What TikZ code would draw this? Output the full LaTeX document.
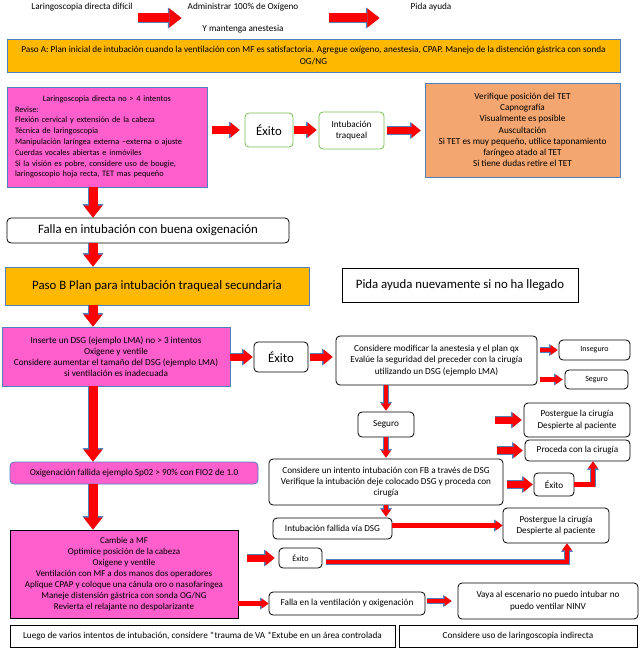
\documentclass[tikz,border=0pt]{standalone}
\usepackage{fontspec}
\setmainfont{Carlito}
\usetikzlibrary{arrows.meta}

\definecolor{rojo}{RGB}{255,0,0}
\definecolor{borde}{RGB}{79,129,189}
\definecolor{rosa}{RGB}{255,95,205}
\definecolor{naranja}{RGB}{255,184,0}
\definecolor{salmon}{RGB}{244,166,112}
\definecolor{verde}{RGB}{120,190,80}

\newcommand{\diminuto}{\fontsize{8}{9}\selectfont}
\newcommand{\menor}{\fontsize{8.3}{10.8}\selectfont}
\newcommand{\chico}{\fontsize{9.2}{11.2}\selectfont}
\newcommand{\grande}{\fontsize{12.8}{14}\selectfont}

\tikzset{
  caja/.style={draw, line width=0.8pt, inner sep=2pt, align=center, font=\chico},
  cajarosa/.style={caja, fill=rosa, draw=borde},
  cajanaranja/.style={caja, fill=naranja, draw=borde},
  cajasalmon/.style={caja, fill=salmon, draw=borde},
  cajaverde/.style={caja, rounded corners=4pt, draw=verde, fill=white},
  redonda/.style={caja, rounded corners=4pt, draw=black, fill=white},
  recta/.style={caja, draw=black, fill=white},
  etiqueta/.style={font=\chico, inner sep=0pt},
  flechota/.style={draw=rojo, line width=9pt, -{Triangle[width=19pt,length=12pt,line width=0pt]},
    preaction={draw=borde, line width=10.2pt, -{Triangle[width=21pt,length=13.5pt,line width=0pt]}}},
  flecha/.style={draw=rojo, line width=7pt, -{Triangle[width=15pt,length=9pt,line width=0pt]},
    preaction={draw=borde, line width=8.2pt, -{Triangle[width=17pt,length=10.5pt,line width=0pt]}}},
  flechita/.style={draw=rojo, line width=4.5pt, -{Triangle[width=10pt,length=7pt,line width=0pt]},
    preaction={draw=borde, line width=5.5pt, -{Triangle[width=12pt,length=8.5pt,line width=0pt]}}}
}

\begin{document}
\begin{tikzpicture}[x=1pt,y=-1pt]
\useasboundingbox (0,0) rectangle (642,650);

% encabezado
\node[etiqueta] (dificil) at (82,7) {Laringoscopia directa difícil};
\node[etiqueta, align=center] (oxigeno) at (243,18) {Administrar 100\% de Oxígeno\\[10.5pt]Y mantenga anestesia};
\node[etiqueta] (ayuda) at (431,7) {Pida ayuda};

\node[cajanaranja, minimum width=613pt, minimum height=33pt] (pasoA) at (313.5,55.5)
  {Paso A: Plan inicial de intubación  cuando la ventilación con MF es satisfactoria. Agregue oxígeno, anestesia, CPAP. Manejo de la distención gástrica con sonda\\OG/NG};

% paso A
\node[cajarosa, font=\menor, minimum width=200pt, minimum height=100pt, text width=184pt, align=left] (revise) at (107,137)
  {\makebox[\linewidth]{Laringoscopia directa no > 4  intentos}\\Revise:\\Flexión cervical y extensión de la cabeza\\Técnica de laringoscopia\\Manipulación laríngea externa –externa o ajuste\\Cuerdas vocales abiertas e inmóviles\\Si la visión es pobre, considere uso de bougie,\\laringoscopio hoja recta, TET mas pequeño};
\node[cajaverde, font=\grande, minimum width=48pt, minimum height=34pt] (exito1) at (269,130) {Éxito};
\node[cajaverde, minimum width=65pt, minimum height=37pt] (traqueal) at (351.5,130.5) {Intubación\\traqueal};
\node[cajasalmon, minimum width=195pt, minimum height=94pt] (verifique) at (522.5,130)
  {Verifique posición del TET\\Capnografía\\Visualmente es posible\\Auscultación\\Si TET es muy pequeño, utilice  taponamiento\\faríngeo atado al TET\\Si tiene dudas retire el TET};

\node[redonda, font=\grande, minimum width=282pt, minimum height=25pt] (falla) at (148,230.5) {Falla en intubación con buena oxigenación};

% paso B
\node[cajanaranja, font=\grande, minimum width=304pt, minimum height=38pt] (pasoB) at (157,286) {Paso B Plan para intubación traqueal secundaria};
\node[recta, font=\grande, minimum width=236pt, minimum height=34pt] (nuevamente) at (460,285) {Pida ayuda nuevamente si no ha llegado};

\node[cajarosa, minimum width=228pt, minimum height=59pt] (dsg) at (116,356.5)
  {Inserte un DSG (ejemplo LMA) no > 3 intentos\\Oxigene y ventile\\Considere aumentar el tamaño del DSG (ejemplo LMA)\\si ventilación es inadecuada};
\node[redonda, font=\grande, minimum width=54pt, minimum height=30pt] (exito2) at (281,357) {Éxito};
\node[redonda, minimum width=201pt, minimum height=49pt] (modificar) at (436.5,360.5)
  {Considere modificar la anestesia y el plan qx\\Evalúe la seguridad del preceder con la cirugía\\utilizando un DSG (ejemplo LMA)};
\node[redonda, font=\diminuto, minimum width=71pt, minimum height=20pt] (inseguro) at (594.5,350) {Inseguro};
\node[redonda, font=\diminuto, minimum width=63pt, minimum height=19pt] (seguroB) at (596.5,379.5) {Seguro};
\node[redonda, minimum width=56pt, minimum height=25pt] (seguro) at (386,424.5) {Seguro};
\node[redonda, minimum width=106pt, minimum height=34pt] (postergue1) at (577,420) {Postergue la cirugía\\Despierte al paciente};
\node[redonda, minimum width=105pt, minimum height=21pt] (proceda) at (577.5,450.5) {Proceda con la cirugía};
\node[redonda, minimum width=234pt, minimum height=46pt] (fibro) at (386,482)
  {Considere un intento intubación con FB a través de  DSG\\Verifique la intubación deje colocado DSG y proceda con\\cirugía};
\node[redonda, minimum width=40pt, minimum height=23pt] (exito3) at (554,484.5) {Éxito};
\node[cajarosa, rounded corners=4pt, minimum width=248pt, minimum height=22pt] (fallida) at (134,473)
  {Oxigenación fallida ejemplo Sp02 > 90\% con FIO2 de 1.0};

% mascarilla facial
\node[cajarosa, draw=black, font=\fontsize{9}{11}\selectfont, minimum width=228pt, minimum height=88pt] (mascarilla) at (124,574)
  {Cambie  a MF\\Optimice posición de la cabeza\\Oxigene y ventile\\Ventilación con MF a dos manos dos operadores\\Aplique CPAP y coloque una cánula oro o nasofaríngea\\Maneje distensión  gástrica con sonda OG/NG\\Revierta el relajante no despolarizante};
\node[redonda, font=\diminuto, minimum width=43pt, minimum height=20pt] (exito4) at (300.5,558) {Éxito};
\node[redonda, minimum width=119pt, minimum height=21pt] (intfallida) at (332.5,528.5) {Intubación fallida vía DSG};
\node[redonda, minimum width=106pt, minimum height=35pt] (postergue2) at (556,525.5) {Postergue la cirugía\\Despierte al paciente};
\node[redonda, minimum width=156pt, minimum height=23pt] (ventilacion) at (347,603.5) {Falla en la ventilación y oxigenación};
\node[redonda, minimum width=180pt, minimum height=36pt] (ninv) at (548,601) {Vaya al escenario no puedo intubar no\\puedo ventilar NINV};
\node[recta, minimum width=385pt, minimum height=22pt] (luego) at (202.5,636)
  {Luego de varios intentos de intubación, considere *trauma de VA *Extube en un área controlada};
\node[recta, minimum width=238pt, minimum height=22pt] (indirecta) at (518,636) {Considere uso de laringoscopia indirecta};

\coordinate (eje) at (93,0);
\coordinate (haciapost) at (495,420);
\coordinate (haciaproc) at (497,450.5);

% flechas
\draw[flechota, shorten <=5pt, shorten >=6pt] (dificil.east |- oxigeno.west) -- (oxigeno.west);
\draw[flechota, shorten <=30pt, shorten >=31pt] (oxigeno.east) -- (oxigeno.east -| ayuda.west);
\draw[flecha, shorten <=5pt, shorten >=5pt] (revise.east |- exito1.west) -- (exito1.west);
\draw[flecha, shorten <=1pt, shorten >=2pt] (exito1.east) -- (exito1.east -| traqueal.west);
\draw[flecha, shorten <=3pt, shorten >=4pt] (traqueal.east) -- (traqueal.east -| verifique.west);

\draw[flechota] (revise.south -| eje) -- (falla.north -| eje);
\draw[flechota] (falla.south -| eje) -- (pasoB.north -| eje);
\draw[flechota] (pasoB.south -| eje) -- (dsg.north -| eje);
\draw[flechota] (dsg.south -| eje) -- (fallida.north -| eje);
\draw[flechota] (fallida.south -| eje) -- (mascarilla.north -| eje);

\draw[flecha, shorten >=1pt] (dsg.east |- exito2.west) -- (exito2.west);
\draw[flecha, shorten <=2pt, shorten >=3pt] (exito2.east) -- (exito2.east -| modificar.west);
\draw[flechita, shorten <=3pt, shorten >=1pt] (modificar.east |- inseguro.west) -- (inseguro.west);
\draw[flechita, shorten <=3pt, shorten >=2pt] (modificar.east |- seguroB.west) -- (seguroB.west);
\draw[flechita, shorten >=1pt] (seguro.north |- modificar.south) -- (seguro.north);
\draw[flecha, shorten >=2pt] (haciapost) -- (postergue1.west);
\draw[flecha, shorten >=2pt] (haciaproc) -- (proceda.west);
\draw[flechita, shorten >=1pt] (seguro.south) -- (seguro.south |- fibro.north);
\draw[flecha, shorten <=4pt, shorten >=1pt] (fibro.east |- exito3.west) -- (exito3.west);
\draw[flechita] (exito3.east) -| ([xshift=15.5pt]proceda.south);
\draw[flechita, shorten >=1pt] (fibro.south) -- (fibro.south |- intfallida.north);
\draw[flechita] (intfallida.east |- postergue2.west) -- (postergue2.west);
\draw[flecha, shorten <=9pt, shorten >=4pt] (mascarilla.east |- exito4.west) -- (exito4.west);
\draw[flechita, shorten <=4pt] ([yshift=-4pt]exito4.east) -| ([xshift=11pt]postergue2.south);
\draw[flechita] (mascarilla.east |- ventilacion.west) -- (ventilacion.west);
\draw[flechita, shorten <=2pt, shorten >=6pt] (ventilacion.east |- ninv.west) -- (ninv.west);

\end{tikzpicture}
\end{document}
